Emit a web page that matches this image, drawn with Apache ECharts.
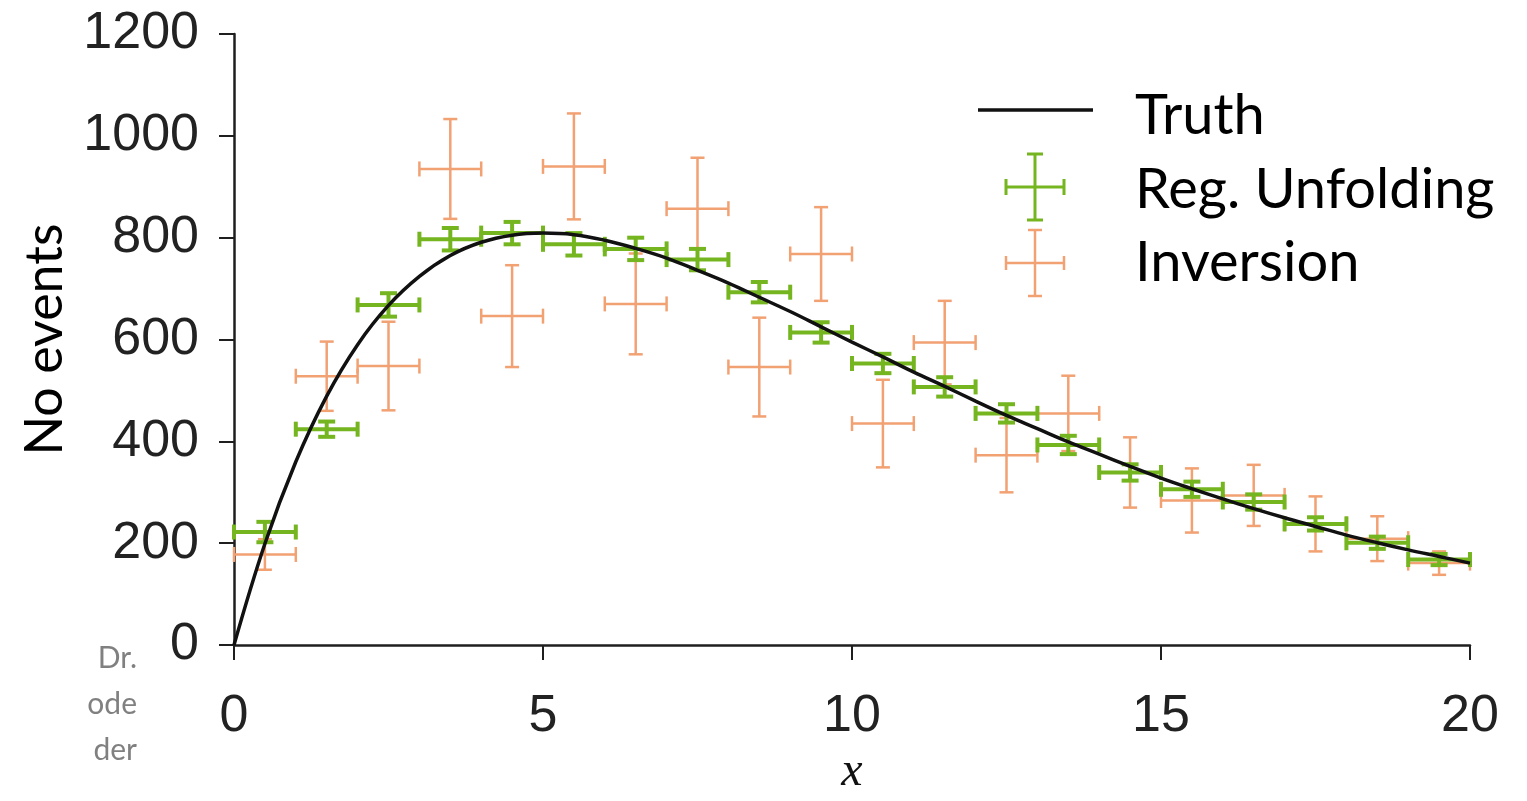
<!DOCTYPE html>
<html>
<head>
<meta charset="utf-8">
<title>Unfolding vs inversion</title>
<script src="https://cdn.jsdelivr.net/npm/echarts@6/dist/echarts.min.js"></script>
<style>
  html, body { margin: 0; padding: 0; background: #ffffff; }
  #chart { width: 1527px; height: 801px; }
</style>
</head>
<body>
<div id="chart"></div>
<script>
// Bin centres (bins are one unit wide on x)
const binCenters = [0.5, 1.5, 2.5, 3.5, 4.5, 5.5, 6.5, 7.5, 8.5, 9.5,
                    10.5, 11.5, 12.5, 13.5, 14.5, 15.5, 16.5, 17.5, 18.5, 19.5];
const binHalfWidth = 0.5;

// Regularised unfolding result and its uncertainties
const regValues = [222, 424, 668, 797, 809, 787, 778, 757, 693, 614,
                   553, 507, 455, 393, 339, 306, 281, 238, 201, 168];
const regErrors = [20, 15, 23, 22, 22, 22, 22, 21, 20, 20,
                   19, 19, 18, 18, 16, 15, 15, 13, 12, 11];

// Plain matrix inversion result and its uncertainties
const invValues = [178, 528, 548, 935, 646, 940, 670, 857, 546, 768,
                   435, 594, 373, 455, 339, 284, 294, 238, 209, 161];
const invErrors = [30, 68, 87, 98, 100, 104, 99, 100, 97, 92,
                   86, 82, 73, 74, 69, 63, 60, 54, 44, 23];

// True distribution
const truthX = [0, 0.5, 1, 1.5, 2, 2.5, 3, 3.5, 4, 4.5, 5, 5.5, 6, 6.5, 7, 7.5, 8, 8.5, 9, 9.5,
                10, 10.5, 11, 11.5, 12, 12.5, 13, 13.5, 14, 14.5, 15, 15.5, 16, 16.5, 17, 17.5,
                18, 18.5, 19, 19.5, 20];
const truthY = [0, 199, 360, 489, 590, 667, 724, 765, 791, 805, 809, 806, 795, 779, 760, 736,
                711, 683, 655, 625, 595, 566, 536, 508, 479, 451, 425, 399, 375, 351, 328, 307,
                287, 268, 250, 233, 216, 201, 187, 174, 161];

// Axis ticks
const xTicks = { min: 0, max: 20, step: 5 };
const yTicks = { min: 0, max: 1200, step: 200 };

const GREEN = '#74b520';
const ORANGE = '#f2a173';
const INK = '#1f1f1f';

function rows(values, errors) {
  return binCenters.map((x, i) => [x, values[i], binHalfWidth, errors[i]]);
}

// Cross-shaped error bar with caps on all four ends
function crossRenderer(color, width, capV, capH) {
  return function (params, api) {
    const x = api.value(0), y = api.value(1), dx = api.value(2), dy = api.value(3);
    const l = api.coord([x - dx, y]);
    const r = api.coord([x + dx, y]);
    const t = api.coord([x, y + dy]);
    const b = api.coord([x, y - dy]);
    const st = { stroke: color, lineWidth: width, lineCap: 'butt' };
    const seg = (x1, y1, x2, y2) => ({ type: 'line', shape: { x1, y1, x2, y2 }, style: st });
    return {
      type: 'group',
      children: [
        seg(l[0], l[1], r[0], r[1]),
        seg(t[0], t[1], b[0], b[1]),
        seg(l[0], l[1] - capH / 2, l[0], l[1] + capH / 2),
        seg(r[0], r[1] - capH / 2, r[0], r[1] + capH / 2),
        seg(t[0] - capV / 2, t[1], t[0] + capV / 2, t[1]),
        seg(b[0] - capV / 2, b[1], b[0] + capV / 2, b[1])
      ]
    };
  };
}

// Legend cross symbol drawn at a fixed spot
function legendCross(cx, cy, color, width, w, h, cap) {
  const st = { stroke: color, lineWidth: width };
  const seg = (x1, y1, x2, y2) => ({ type: 'line', shape: { x1, y1, x2, y2 }, style: st });
  return {
    type: 'group',
    children: [
      seg(cx - w / 2, cy, cx + w / 2, cy),
      seg(cx, cy - h / 2, cx, cy + h / 2),
      seg(cx - w / 2, cy - cap / 2, cx - w / 2, cy + cap / 2),
      seg(cx + w / 2, cy - cap / 2, cx + w / 2, cy + cap / 2),
      seg(cx - cap / 2, cy - h / 2, cx + cap / 2, cy - h / 2),
      seg(cx - cap / 2, cy + h / 2, cx + cap / 2, cy + h / 2)
    ]
  };
}

const tickFont = 'Liberation Sans, Arial, sans-serif';
const slideFont = 'Lato, "Open Sans", sans-serif';

const chart = echarts.init(document.getElementById('chart'), null, { renderer: 'canvas' });

chart.setOption({
  backgroundColor: '#ffffff',
  animation: false,
  grid: { left: 234, right: 57, top: 34, bottom: 147, containLabel: false },
  xAxis: {
    type: 'value',
    min: xTicks.min, max: xTicks.max, interval: xTicks.step,
    name: 'x',
    nameLocation: 'middle',
    nameGap: 86,
    nameTextStyle: { fontFamily: 'Liberation Serif, DejaVu Serif, serif', fontStyle: 'italic', fontSize: 48, color: '#111' },
    axisLine: { lineStyle: { color: INK, width: 2.5 } },
    axisTick: { length: 15, lineStyle: { color: INK, width: 2 } },
    axisLabel: { fontFamily: tickFont, fontSize: 52, color: '#222', margin: 46, formatter: v => String(v) },
    splitLine: { show: false }
  },
  yAxis: {
    type: 'value',
    min: yTicks.min, max: yTicks.max, interval: yTicks.step,
    name: 'No events',
    nameLocation: 'middle',
    nameGap: 163,
    nameRotate: 90,
    nameTextStyle: { fontFamily: slideFont, fontSize: 52, color: '#000' },
    axisLine: { lineStyle: { color: INK, width: 2.5 } },
    axisTick: { length: 15, lineStyle: { color: INK, width: 2 } },
    axisLabel: { fontFamily: tickFont, fontSize: 52, color: '#222', margin: 35, formatter: v => String(v) },
    splitLine: { show: false }
  },
  series: [
    {
      name: 'Inversion',
      type: 'custom',
      renderItem: crossRenderer(ORANGE, 2.5, 14, 15),
      data: rows(invValues, invErrors),
      encode: { x: 0, y: 1 },
      z: 2
    },
    {
      name: 'Reg. Unfolding',
      type: 'custom',
      renderItem: crossRenderer(GREEN, 4, 17, 15),
      data: rows(regValues, regErrors),
      encode: { x: 0, y: 1 },
      z: 3
    },
    {
      name: 'Truth',
      type: 'line',
      data: truthX.map((x, i) => [x, truthY[i]]),
      smooth: 0.4,
      showSymbol: false,
      lineStyle: { color: '#111111', width: 3.5 },
      z: 4
    }
  ],
  graphic: [
    // legend
    { type: 'line', shape: { x1: 978, y1: 110, x2: 1093, y2: 110 }, style: { stroke: '#111', lineWidth: 3.5 } },
    legendCross(1035, 187, GREEN, 3, 58, 66, 16),
    legendCross(1035, 263, ORANGE, 2.5, 58, 66, 14),
    { type: 'text', x: 1135, y: 116, style: { text: 'Truth', font: '56px ' + slideFont, fill: '#000', textAlign: 'left', textVerticalAlign: 'middle' } },
    { type: 'text', x: 1135, y: 190, style: { text: 'Reg. Unfolding', font: '56px ' + slideFont, fill: '#000', textAlign: 'left', textVerticalAlign: 'middle' } },
    { type: 'text', x: 1135, y: 263, style: { text: 'Inversion', font: '56px ' + slideFont, fill: '#000', textAlign: 'left', textVerticalAlign: 'middle' } },
    // slide margin text
    { type: 'text', x: 137, y: 658, style: { text: 'Dr.', font: '30px ' + slideFont, fill: '#808080', textAlign: 'right', textVerticalAlign: 'middle' } },
    { type: 'text', x: 137, y: 704, style: { text: 'ode', font: '30px ' + slideFont, fill: '#808080', textAlign: 'right', textVerticalAlign: 'middle' } },
    { type: 'text', x: 137, y: 750, style: { text: 'der', font: '30px ' + slideFont, fill: '#808080', textAlign: 'right', textVerticalAlign: 'middle' } }
  ]
});
</script>
</body>
</html>
